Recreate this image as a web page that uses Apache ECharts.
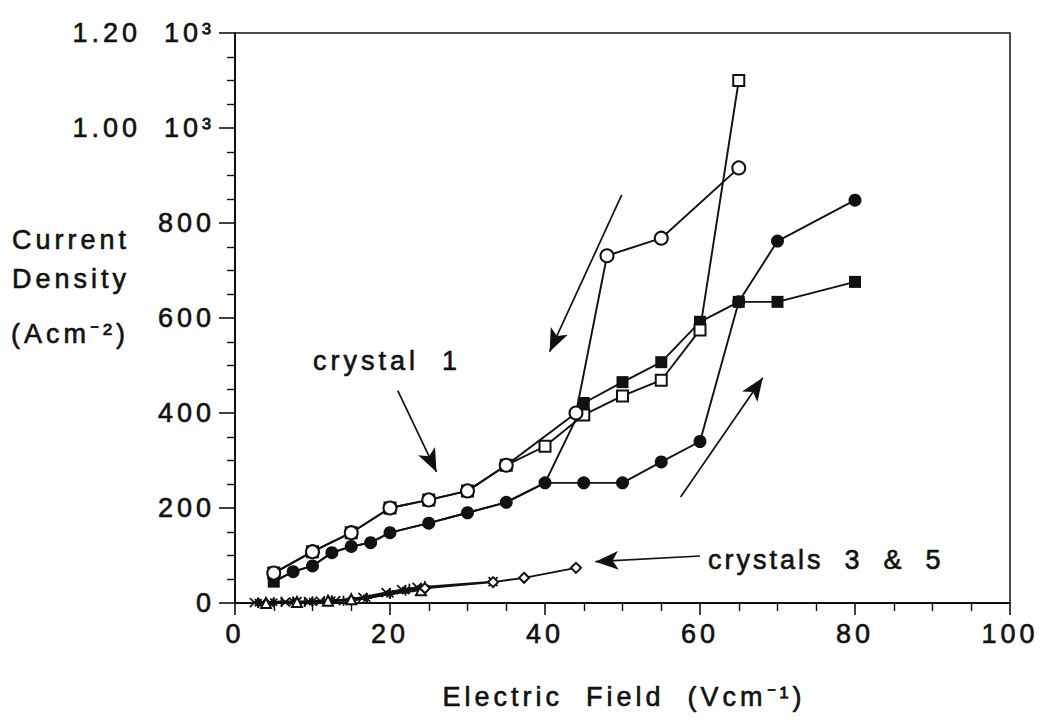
<!DOCTYPE html>
<html>
<head>
<meta charset="utf-8">
<script src="https://cdn.jsdelivr.net/npm/echarts@6/dist/echarts.min.js"></script>
<style>
  html, body { margin: 0; padding: 0; background: #fff; }
  #chart { width: 1052px; height: 721px; }
  #chart text { letter-spacing: 4px; white-space: pre; }
</style>
</head>
<body>
<div id="chart"></div>
<script>
// Crystal 1, rising field (filled markers). The two runs share the low-field points.
const fieldLow = [5, 7.5, 10, 12.5, 15, 17.5, 20, 25, 30, 35, 40];
const upCirclesLow = [45, 66, 78, 106, 119, 127, 148, 168, 190, 212, 253];
const fieldHigh = [45, 50, 55, 60, 65, 70, 80];
const upCirclesHigh = [253, 253, 297, 340, 634, 762, 848];
const upSquaresHigh = [421, 465, 507, 592, 634, 634, 676];

// Crystal 1, falling field (open markers)
const fieldDownCircles = [65, 55, 48, 44, 35, 30, 25, 20, 15, 10, 5];
const downCircles = [916, 768, 731, 400, 290, 236, 217, 200, 148, 108, 63];
const fieldDownSquares = [65, 60, 55, 50, 45, 40, 35, 30, 25, 20, 15, 10, 5];
const downSquares = [1100, 575, 469, 436, 396, 330, 290, 236, 217, 200, 148, 108, 63];

// Crystals 3 & 5
const c3UpField = [2.5, 3.5, 4.5, 6.5, 8, 9.5, 11, 13, 16.5, 19.5, 21.5, 23.5, 33.3];
const c3Up = [1, 1, 1, 2, 3, 3, 4, 5, 12, 22, 28, 33, 45];
const c3DownField = [3, 6, 9, 11.5, 14, 17, 20, 22.5, 24.5];
const c3Down = [0, 3, 2, 4, 5, 10, 21, 30, 36];
const c5UpField = [3, 5, 7.5, 10, 12.5, 15, 17, 20, 22, 24];
const c5Up = [1, 2, 3, 3, 6, 5, 10, 19, 26, 30];
const c5DownField = [24, 15, 12, 8, 4];
const c5Down = [27, 8, 5, 2, 0];
const c5HighField = [24.5, 33.3, 37.3, 44];
const c5High = [31, 44, 53, 74];

// Axis tick labels
const xTickLabels = ['0', '20', '40', '60', '80', '100'];
const yTickLabels = ['0', '200', '400', '600', '800', '1.00  10³', '1.20  10³'];

// Annotation arrows [fromX, fromY, toX, toY] in data units
const arrowDown = [49.9, 859, 40.6, 529];
const arrowUp = [57.5, 223, 68.1, 474];
const arrowCrystal1 = [21, 447, 26, 276];
const arrowCrystals35 = [60, 99, 46.5, 87];

const FONT = "'Liberation Sans', Arial, Helvetica, sans-serif";
const INK = '#111';

const zip = (xs, ys) => xs.map((x, i) => [x, ys[i]]);

const crossPath = 'path://M0,0L10,10M0,10L10,0';
const plusPath = 'path://M5,0L5,10M0,5L10,5';
const starPath = 'path://M5,0L5,10M0,5L10,5M1.5,1.5L8.5,8.5M1.5,8.5L8.5,1.5';

function lineSeries(name, data, symbol, size, filled, extra) {
  return Object.assign({
    name: name,
    type: 'line',
    data: data,
    symbol: symbol,
    symbolSize: size,
    showAllSymbol: true,
    animation: false,
    lineStyle: { color: INK, width: 1.9 },
    itemStyle: filled
      ? { color: INK, borderWidth: 0 }
      : { color: INK, borderColor: INK, borderWidth: 1.7 },
    emphasis: { disabled: true }
  }, extra || {});
}

function arrow(a) {
  return [{ coord: [a[0], a[1]] }, { coord: [a[2], a[3]] }];
}

const series = [
  lineSeries('c3Up', zip(c3UpField, c3Up), crossPath, 9, false),
  lineSeries('c3Down', zip(c3DownField, c3Down), plusPath, 10, false),
  lineSeries('c5Up', zip(c5UpField, c5Up), starPath, 10, false),
  lineSeries('c5Down', zip(c5DownField, c5Down), 'emptyTriangle', 10, false),
  lineSeries('c5High', zip(c5HighField, c5High), 'emptyDiamond', 10, false),
  lineSeries('upSquares',
    zip(fieldLow.concat(fieldHigh), upCirclesLow.concat(upSquaresHigh)),
    function (v) { return (v[0] > 5 && v[0] <= 40) ? 'none' : 'rect'; }, 12, true),
  lineSeries('upCircles',
    zip(fieldLow.concat(fieldHigh), upCirclesLow.concat(upCirclesHigh)),
    function (v) { return v[0] === 5 ? 'none' : 'circle'; }, 13, true),
  lineSeries('downSquares', zip(fieldDownSquares, downSquares), 'emptyRect', 11, false),
  lineSeries('downCircles', zip(fieldDownCircles, downCircles), 'emptyCircle', 13, false, {
    markLine: {
      silent: true,
      animation: false,
      symbol: ['none', 'arrow'],
      symbolSize: [14, 23],
      label: { show: false },
      lineStyle: { color: INK, width: 1.7, type: 'solid' },
      emphasis: { disabled: true },
      data: [arrow(arrowDown), arrow(arrowUp), arrow(arrowCrystal1), arrow(arrowCrystals35)]
    }
  })
];

const labelFont = {
  fontFamily: FONT, fontSize: 27, color: INK,
  textBorderColor: INK, textBorderWidth: 0.6
};

function textItem(x, y, text, align, cls) {
  return {
    type: 'text', x: x, y: y, silent: true, name: cls || '',
    style: {
      text: text, fontFamily: FONT, fontSize: 27, fill: INK,
      stroke: INK, lineWidth: 0.6,
      align: align, verticalAlign: 'middle'
    }
  };
}

const option = {
  backgroundColor: '#fff',
  animation: false,
  grid: {
    left: 235, top: 33, right: 42, bottom: 118,
    show: true, borderColor: INK, borderWidth: 1.5, backgroundColor: 'transparent'
  },
  xAxis: {
    type: 'value',
    min: 0, max: 100, interval: 20,
    axisLine: { show: true, onZero: false, lineStyle: { color: INK, width: 2 } },
    axisTick: { show: true, inside: false, length: 12, lineStyle: { color: INK, width: 1.6 } },
    minorTick: { show: true, splitNumber: 4, length: 8, lineStyle: { color: INK, width: 1.4 } },
    splitLine: { show: false },
    minorSplitLine: { show: false },
    axisLabel: Object.assign({
      margin: 17,
      formatter: function (v) { return xTickLabels[Math.round(v / 20)]; }
    }, labelFont)
  },
  yAxis: {
    type: 'value',
    min: 0, max: 1200, interval: 200,
    axisLine: { show: true, onZero: false, lineStyle: { color: INK, width: 2 } },
    axisTick: { show: true, inside: false, length: 16, lineStyle: { color: INK, width: 1.6 } },
    minorTick: { show: true, splitNumber: 4, length: 8, lineStyle: { color: INK, width: 1.4 } },
    splitLine: { show: false },
    minorSplitLine: { show: false },
    axisLabel: Object.assign({
      margin: 20,
      formatter: function (v) { return yTickLabels[Math.round(v / 200)]; }
    }, labelFont)
  },
  graphic: [
    textItem(12, 240, 'Current', 'left'),
    textItem(12, 279, 'Density', 'left'),
    textItem(11, 334, '(Acm⁻²)', 'left'),
    textItem(624, 697, 'Electric  Field  (Vcm⁻¹)', 'center'),
    textItem(313, 361, 'crystal  1', 'left'),
    textItem(708, 560, 'crystals  3  &  5', 'left')
  ],
  series: series
};

const chart = echarts.init(document.getElementById('chart'), null, { renderer: 'svg' });
chart.setOption(option);

// Tighter tracking for the crystals 3 & 5 caption
document.querySelectorAll('#chart text').forEach(function (t) {
  if (t.textContent.indexOf('crystals') === 0) t.style.letterSpacing = '3px';
});
</script>
</body>
</html>
